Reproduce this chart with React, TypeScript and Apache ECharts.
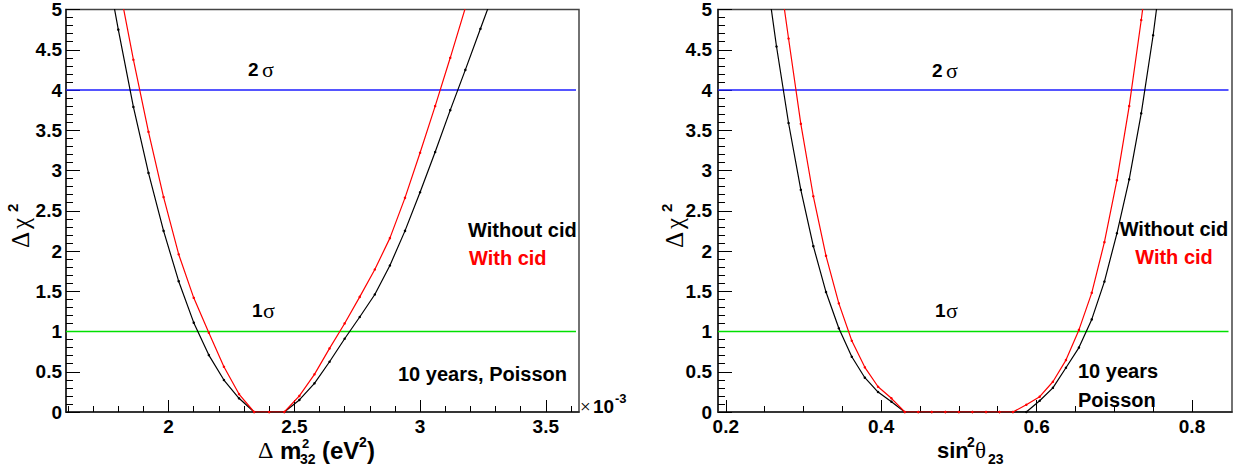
import React, { useEffect, useRef } from "react";
import * as echarts from "echarts";

// ---------- data ----------
// Δm²32 grid (units of 1e-3 eV²)
const dm2Values = [1.74, 1.8, 1.86, 1.92, 1.98, 2.04, 2.1, 2.16, 2.22, 2.28, 2.34, 2.4, 2.46, 2.52, 2.58, 2.64, 2.7, 2.76, 2.82, 2.88, 2.94, 3.0, 3.06, 3.12, 3.18, 3.24, 3.3];
const chi2DmWithoutCid = [5.77, 4.75, 3.79, 2.97, 2.25, 1.625, 1.11, 0.707, 0.397, 0.17, 0, 0, 0, 0.15, 0.356, 0.624, 0.91, 1.18, 1.46, 1.82, 2.25, 2.73, 3.23, 3.75, 4.25, 4.76, 5.27];
const chi2DmWithCid = [6.3, 5.35, 4.376, 3.48, 2.67, 1.96, 1.418, 0.984, 0.562, 0.223, 0, 0, 0, 0.2, 0.468, 0.79, 1.1, 1.43, 1.77, 2.16, 2.66, 3.22, 3.8, 4.4, 5.02, 5.65, 6.3];

// sin²θ23 grid
const sin2Values = [0.25, 0.2653, 0.2808, 0.2966, 0.3127, 0.329, 0.3455, 0.3622, 0.379, 0.396, 0.4132, 0.4304, 0.4477, 0.4651, 0.4826, 0.5, 0.5174, 0.5349, 0.5523, 0.5696, 0.5868, 0.604, 0.621, 0.6378, 0.6545, 0.671, 0.6873, 0.7034, 0.7192, 0.7347, 0.75, 0.765];
const chi2ThWithoutCid = [5.6, 4.54, 3.59, 2.76, 2.06, 1.49, 1.04, 0.686, 0.426, 0.248, 0.128, 0, 0, 0, 0, 0, 0, 0, 0, 0, 0, 0.14, 0.3, 0.55, 0.8, 1.15, 1.62, 2.22, 2.89, 3.71, 4.68, 5.8];
const chi2ThWithCid = [6.9, 5.7, 4.64, 3.58, 2.68, 1.94, 1.35, 0.885, 0.555, 0.314, 0.17, 0, 0, 0, 0, 0, 0, 0, 0, 0, 0.09, 0.19, 0.376, 0.645, 1.02, 1.48, 2.11, 2.88, 3.8, 4.87, 6.0, 7.2];

const sigmaLevels = [1, 4];
const dmRange = [1.592, 3.632];
const thRange = [0.19, 0.8515];
const dmSigmaLineEnd = 3.62;
const thSigmaLineEnd = 0.847;
const dmMajorTicks = [2, 2.5, 3, 3.5];
const dmMinorTicks = [1.6, 1.7, 1.8, 1.9, 2.1, 2.2, 2.3, 2.4, 2.6, 2.7, 2.8, 2.9, 3.1, 3.2, 3.3, 3.4, 3.6];
const thMajorTicks = [0.2, 0.4, 0.6, 0.8];
const thMinorTicks = [0.25, 0.3, 0.35, 0.45, 0.5, 0.55, 0.65, 0.7, 0.75];

// ---------- styling ----------
const SANS = '"Liberation Sans", Arial, Helvetica, sans-serif';
const SERIF = '"Liberation Serif", "Times New Roman", serif';
const BLACK = "#000000";
const RED = "#ff0000";
const BLUE = "#1c1cff";
const GREEN = "#00e000";

const LEFT_RECT = { left: 66, top: 9, width: 513, height: 403 };
const RIGHT_RECT = { left: 718, top: 9, width: 514, height: 403 };

const pair = (xs: number[], ys: number[]) => xs.map((x, i) => [x, ys[i]]);

function txt(text: string, x: number, y: number, o: any = {}) {
  const size = o.size ?? 20;
  const weight = o.weight ?? "bold";
  const family = o.family ?? SANS;
  const align = o.align ?? "left";
  const va = o.va ?? "middle";
  return {
    type: "text",
    x,
    y,
    silent: true,
    style: {
      text,
      fill: o.color ?? BLACK,
      font: `${weight} ${size}px ${family}`,
      align,
      verticalAlign: va,
      textAlign: align,
      textVerticalAlign: va,
    },
  };
}

function yTitle(gx: number, gy: number) {
  return {
    type: "group",
    x: gx,
    y: gy,
    rotation: Math.PI / 2,
    children: [
      txt("Δ", 0, -9, { size: 25, weight: "normal", family: SERIF }),
      txt("χ", 19, -9, { size: 25, weight: "normal", family: SERIF }),
      txt("2", 36, -17, { size: 15 }),
    ],
  };
}

function majorAxis(gridIndex: number, range: number[], ticks: number[]) {
  return {
    type: "value",
    gridIndex,
    position: "bottom",
    min: range[0],
    max: range[1],
    axisLine: { show: true, onZero: false, lineStyle: { color: "#222", width: 1.6 } },
    axisTick: { show: true, inside: true, length: 12, customValues: ticks, lineStyle: { color: BLACK, width: 1 } },
    axisLabel: {
      show: true,
      customValues: ticks,
      margin: 5,
      color: BLACK,
      fontSize: 19,
      fontWeight: "bold",
      fontFamily: SANS,
    },
    splitLine: { show: false },
  };
}

function minorAxis(gridIndex: number, range: number[], ticks: number[]) {
  return {
    type: "value",
    gridIndex,
    position: "bottom",
    min: range[0],
    max: range[1],
    axisLine: { show: false, onZero: false },
    axisTick: { show: true, inside: true, length: 6, customValues: ticks, lineStyle: { color: BLACK, width: 1 } },
    axisLabel: { show: false },
    splitLine: { show: false },
  };
}

function yAxis(gridIndex: number, margin: number) {
  return {
    type: "value",
    gridIndex,
    min: 0,
    max: 5,
    interval: 0.5,
    axisLine: { show: true, onZero: false, lineStyle: { color: "#222", width: 1.6 } },
    axisTick: { show: true, inside: true, length: 14, lineStyle: { color: BLACK, width: 1 } },
    minorTick: { show: true, splitNumber: 5, length: 7, lineStyle: { color: BLACK, width: 1 } },
    axisLabel: { margin, color: BLACK, fontSize: 19, fontWeight: "bold", fontFamily: SANS },
    splitLine: { show: false },
  };
}

function hiddenY(gridIndex: number) {
  return { type: "value", gridIndex, min: 0, max: 5, show: false };
}

function hLine(name: string, xi: number, yi: number, x0: number, x1: number, level: number, color: string) {
  return {
    name,
    type: "line",
    xAxisIndex: xi,
    yAxisIndex: yi,
    data: [
      [x0, level],
      [x1, level],
    ],
    symbol: "none",
    silent: true,
    color,
    itemStyle: { color },
    lineStyle: { color, width: 1.3, opacity: 1 },
    emphasis: { disabled: true },
    z: 1,
  };
}

function curve(name: string, xi: number, yi: number, data: number[][], color: string, z: number) {
  return {
    name,
    type: "line",
    xAxisIndex: xi,
    yAxisIndex: yi,
    data,
    clip: true,
    symbol: "circle",
    symbolSize: 2.5,
    showSymbol: true,
    showAllSymbol: true,
    silent: true,
    itemStyle: { color },
    lineStyle: { color, width: 1.2 },
    emphasis: { disabled: true },
    z,
  };
}

export default function App() {
  const ref = useRef<HTMLDivElement>(null);

  useEffect(() => {
    if (!ref.current) return;
    const chart = echarts.init(ref.current, undefined, { renderer: "svg" });

    const option: any = {
      animation: false,
      backgroundColor: "#ffffff",
      grid: [
        { ...LEFT_RECT, show: true, borderColor: "#444", borderWidth: 1.5, backgroundColor: "transparent", containLabel: false },
        { ...RIGHT_RECT, show: true, borderColor: "#444", borderWidth: 1.5, backgroundColor: "transparent", containLabel: false },
        { ...LEFT_RECT, show: false, containLabel: false },
        { ...RIGHT_RECT, show: false, containLabel: false },
      ],
      xAxis: [
        majorAxis(0, dmRange, dmMajorTicks),
        majorAxis(1, thRange, thMajorTicks),
        minorAxis(2, dmRange, dmMinorTicks),
        minorAxis(3, thRange, thMinorTicks),
      ],
      yAxis: [yAxis(0, 4), yAxis(1, 6), hiddenY(2), hiddenY(3)],
      series: [
        hLine("2 sigma", 0, 0, dmRange[0], dmSigmaLineEnd, sigmaLevels[1], BLUE),
        hLine("1 sigma", 0, 0, dmRange[0], dmSigmaLineEnd, sigmaLevels[0], GREEN),
        curve("Without cid", 0, 0, pair(dm2Values, chi2DmWithoutCid), BLACK, 3),
        curve("With cid", 0, 0, pair(dm2Values, chi2DmWithCid), RED, 4),
        hLine("2 sigma b", 1, 1, thRange[0], thSigmaLineEnd, sigmaLevels[1], BLUE),
        hLine("1 sigma b", 1, 1, thRange[0], thSigmaLineEnd, sigmaLevels[0], GREEN),
        curve("Without cid b", 1, 1, pair(sin2Values, chi2ThWithoutCid), BLACK, 3),
        curve("With cid b", 1, 1, pair(sin2Values, chi2ThWithCid), RED, 4),
      ],
      graphic: {
        elements: [
          // left panel
          txt("2", 248, 69, { size: 19 }),
          txt("σ", 262, 69, { size: 22, weight: "normal", family: SERIF }),
          txt("1", 252, 310, { size: 19 }),
          txt("σ", 263, 310, { size: 22, weight: "normal", family: SERIF }),
          txt("Without cid", 468, 230, { size: 20 }),
          txt("With cid", 469, 258, { size: 20, color: RED }),
          txt("10 years, Poisson", 398, 374, { size: 20 }),
          txt("×", 580, 406, { size: 19, weight: "normal", family: SERIF }),
          txt("10", 593, 406, { size: 19 }),
          txt("-3", 615, 398, { size: 13 }),
          // left x title
          txt("Δ", 258, 450, { size: 24, weight: "normal", family: SERIF }),
          txt("m", 280, 450, { size: 24 }),
          txt("2", 302, 443, { size: 13 }),
          txt("32", 300, 459, { size: 14 }),
          txt("(eV", 322, 450, { size: 24 }),
          txt("2", 359, 442, { size: 14 }),
          txt(")", 367, 450, { size: 24 }),
          yTitle(29, 248),
          // right panel
          txt("2", 932, 70, { size: 19 }),
          txt("σ", 946, 70, { size: 22, weight: "normal", family: SERIF }),
          txt("1", 935, 310, { size: 19 }),
          txt("σ", 946, 310, { size: 22, weight: "normal", family: SERIF }),
          txt("Without cid", 1174, 229, { size: 20, align: "center" }),
          txt("With cid", 1174, 257, { size: 20, align: "center", color: RED }),
          txt("10 years", 1078, 371, { size: 20 }),
          txt("Poisson", 1078, 400, { size: 20 }),
          // right x title
          txt("sin", 937, 450, { size: 22 }),
          txt("2", 967, 442, { size: 14 }),
          txt("θ", 975, 450, { size: 23, weight: "normal", family: SERIF }),
          txt("23", 988, 459, { size: 14 }),
          yTitle(683, 248),
        ],
      },
    };

    chart.setOption(option);
    return () => chart.dispose();
  }, []);

  return (
    <div
      ref={ref}
      style={{ position: "absolute", left: 0, top: 0, width: 1239, height: 467, background: "#fff" }}
    />
  );
}
